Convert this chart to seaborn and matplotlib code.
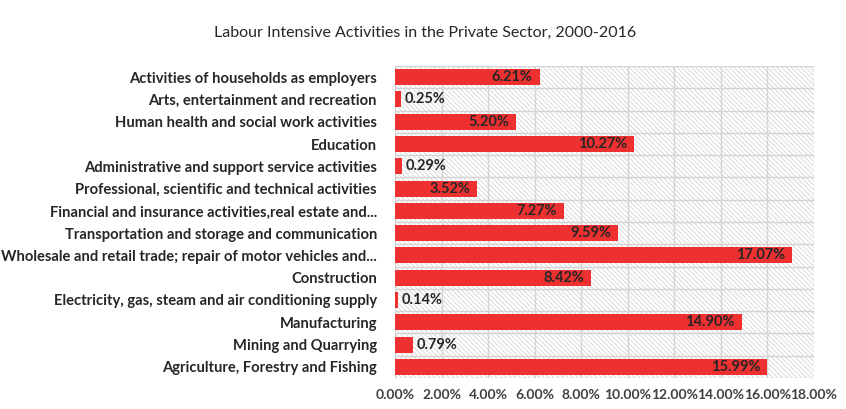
import matplotlib
matplotlib.use("Agg")
import matplotlib.pyplot as plt
from matplotlib.patches import Rectangle
from matplotlib.ticker import FuncFormatter
import seaborn as sns
import pandas as pd

categories = [
    "Activities of households as employers",
    "Arts, entertainment and recreation",
    "Human health and social work activities",
    "Education",
    "Administrative and support service activities",
    "Professional, scientific and technical activities",
    "Financial and insurance activities,real estate and...",
    "Transportation and storage and communication",
    "Wholesale and retail trade; repair of motor vehicles and...",
    "Construction",
    "Electricity, gas, steam and air conditioning supply",
    "Manufacturing",
    "Mining and Quarrying",
    "Agriculture, Forestry and Fishing",
]
shares = [6.21, 0.25, 5.20, 10.27, 0.29, 3.52, 7.27, 9.59, 17.07, 8.42, 0.14, 14.90, 0.79, 15.99]
x_ticks = [0, 2, 4, 6, 8, 10, 12, 14, 16, 18]

df = pd.DataFrame({"category": categories, "share": shares})

sns.set_theme(style="white")
plt.rcParams["font.family"] = ["Lato", "DejaVu Sans"]
plt.rcParams["hatch.color"] = "#d9d9d9"
plt.rcParams["hatch.linewidth"] = 0.7

fig = plt.figure(figsize=(8.46, 4.09), dpi=100)
ax = fig.add_axes([395 / 846, 1 - 378 / 409, (814 - 395) / 846, (378 - 66) / 409])

# hatched plot-area background
ax.add_patch(Rectangle((0, 0), 1, 1, transform=ax.transAxes, facecolor="white",
                       edgecolor="#d9d9d9", hatch="\\" * 7, linewidth=0, zorder=0))

sns.barplot(data=df, x="share", y="category", color="#ee3130", saturation=1,
            width=0.72, ax=ax, zorder=3, edgecolor="none")

ax.set_xlim(0, 18)
ax.set_ylim(len(categories) - 0.5, -0.5)
ax.set_xticks(x_ticks)
ax.xaxis.set_major_formatter(FuncFormatter(lambda v, p: f"{v:.2f}%"))

# grid: vertical at ticks, horizontal between categories
for xv in x_ticks:
    ax.axvline(xv, color="#d4d4d4", lw=1.0, zorder=1)
for yb in range(len(categories) + 1):
    ax.axhline(yb - 0.5, color="#d4d4d4", lw=1.0, zorder=1)

for s in ax.spines.values():
    s.set_visible(False)

ax.set_xlabel("")
ax.set_ylabel("")
ax.tick_params(axis="x", length=0, pad=8, labelsize=10, colors="#404040")
ax.tick_params(axis="y", length=0, pad=13, labelsize=10.6, colors="#262626")
for t in ax.get_yticklabels():
    t.set_fontweight("bold")
for t in ax.get_xticklabels():
    t.set_fontweight("bold")

for i, v in enumerate(shares):
    label = f"{v:.2f}%"
    if v > 3:
        ax.text(v - 0.3, i, label, ha="right", va="center", fontsize=10.5,
                fontweight="bold", color="#262626", zorder=4)
    else:
        ax.text(v + 0.15, i, label, ha="left", va="center", fontsize=10.5,
                fontweight="bold", color="#262626", zorder=4)

fig.text(425 / 846, 1 - 33 / 409, "Labour Intensive Activities in the Private Sector, 2000-2016",
         ha="center", va="center", fontsize=11.5, color="#262626")

fig.savefig("out.png", dpi=100, facecolor="white")
